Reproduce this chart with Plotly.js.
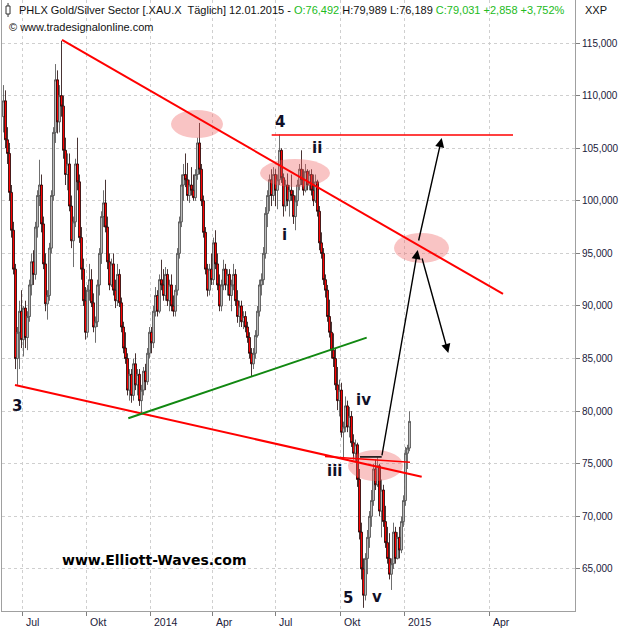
<!DOCTYPE html>
<html>
<head>
<meta charset="utf-8">
<script src="https://cdn.plot.ly/plotly-3.0.1.min.js"></script>
<style>html,body{margin:0;padding:0;background:#fff;}#chart{width:621px;height:629px;}</style>
</head>
<body>
<div id="chart"></div>
<script>
// Trading-day index (0 = first trading day of Jul 2013); one candle every 2 trading days
const firstDay = -19;
const dayStep = 2;

const openP = [
108,109.5,105.8,104.5,100.8,97.2,93.5,85,87.5,89.5,
86.8,89.8,87,89,92,94.2,93,97.5,100.5,101.5,
97.8,94,90.2,91,95.5,100.5,106.5,111.5,107.5,110,
109,104.8,102.5,103.5,99.5,96.2,98,103.5,101.8,96.5,
93.5,90.5,87.5,91.5,92.5,90.3,88,88.5,92,95,
98.5,99.8,97.5,94.2,92,94,91.5,90.5,93,90.3,
88,86,85,82,83.5,81.5,84.5,82.5,83.5,81,
82,83.8,82.8,85.5,87.5,86.5,89.5,91,89.5,92.5,
92,91,93,90.5,92,90,89.5,91.5,95,98,
101.5,102.5,102,100.5,101.5,101,100.3,102.5,105.5,103,
100,97,93.5,91.5,93.5,92.5,96,94,92,90,
92,93.5,92,93,91,92,93,90.5,89,90,
88.5,89,88,87,85.5,84.5,85.5,87.2,89.5,92,
92.5,95,98.8,100.5,102,100.5,102.5,101,102,104.8,
102.2,99.5,101.5,100,101,100.5,98.5,100,101.5,103,
102,101,102.8,101.5,102.5,101,100,101.8,99,96,
95,92.5,91.5,89,87.5,85.8,85,82.5,81,82,
78,78.5,80.5,78.5,79.5,77,76,76.8,73.5,68.5,
65,62.5,66,68,70,71.5,74.5,73,74.8,70.5,
72.5,69.5,67.5,66,64.5,65.5,68.5,66,68,66.8,
69.5,71.5,76,76.49];
const highP = [
111,110.5,107,105.5,101.5,98,94,88,90.5,91.5,
90,90.5,89.5,92.5,95,95.3,98,101,103.9,102.5,
98.5,95,91.5,96,101,107,113,112.4,111,115.2,
110,106,104.5,104.5,100.5,98.5,104,106,102.5,97.5,
94.5,91.8,92,94,93.5,91.2,89,92.5,95.5,99,
101,102,98.5,95,94.5,95,92.5,94,93.5,90.8,
88.5,87.5,85.5,84,84,85,85.5,84,84,82.5,
84.2,84.5,86,88,88,90,91.8,91.5,93,94.4,
93.5,93.7,93.5,92.5,93,91,92,95.5,98.5,102.5,
103.5,104.5,103.6,102,103.2,102.5,103,106,107.4,103.5,
100.5,97.5,94,94,95,96.5,97.2,95,93,92.5,
94.4,94,93.5,93.5,92.5,94,93.5,91.5,90.5,90.5,
89.5,89.5,88.5,87.5,86,86,87.7,90,92.5,93.1,
95.6,99.4,101,102.5,103,103.2,103,102.5,106.3,105,
102.6,102,102.6,101.5,102.5,101,100.5,102,103.5,104.8,
103,103.5,103,102.9,103,102.5,102.5,102,99.5,97,
95.5,93,92,90.6,88.5,87.4,86,84.2,83,82.7,
79,81.4,81,80.4,80,77.8,77.3,77,74.5,69.4,
66,66.5,68.7,70.5,72.5,75,75.4,75.6,75,73.5,
73,71,69,68.4,66,69.4,69,68.5,69,70,
72,76.6,76.8,79.99];
const lowP = [
106.5,105,103.5,100,96.5,93,84,82.5,84,86,
85.2,86,85.8,88.5,91,92,92.5,96.5,99.5,97,
93.5,89.5,88.7,90.5,95,100,105.5,106.4,106.5,108,
104,101.5,101,99,95.5,93.7,97.5,101,96,92.5,
90,86.8,87,90.5,89.9,87.5,86.5,88,91,94,
97.5,97,93.5,91.5,91.8,91,89.8,90,89.9,87.5,
85.5,84.5,81.5,81,80.8,81,82,81.5,80.5,79.8,
81.5,82,82.5,85,85.5,86,89,89,89.3,91.5,
90.5,90.5,90,89.5,89.5,89,89,91,94.5,97.5,
100,101.3,100,99.8,100.5,100,100,102,102.5,99.5,
96.5,93,90.9,91,92,92,93.5,91.5,89.5,89.5,
91.5,91.5,91,90.5,89.5,91.5,90,88.4,88,88,
87.8,87.5,86.5,85,83.3,84,85,87,89,91,
92,94.5,97.5,99,99.5,100,99.5,99.2,101.5,101.7,
98.5,99,99.5,98.5,100,97.8,97.2,99.5,101,101.5,
100.5,100.8,101,101,100.5,99.5,99.8,98.5,95.3,94.5,
92,90.8,88.5,87,85,84.2,82,80.1,79.5,77.5,
75.6,78,78,77.5,76.6,75.4,75.2,72.8,67.8,64,
61.3,62,64.5,67,69,71,72.5,72.8,70,68,
69,67,65.5,64,63,65,65.5,65.9,66,66.5,
69,71,74.5,76.19];
const closeP = [
109.5,105.8,104.5,100.8,97.2,93.5,85,87.5,89.5,86.8,
89.8,87,89,92,94.2,93,97.5,100.5,101.5,97.8,
94,90.2,91,95.5,100.5,106.5,111.5,107.5,110,109,
104.8,102.5,103.5,99.5,96.2,98,103.5,101.8,96.5,93.5,
90.5,87.5,91.5,92.5,90.3,88,88.5,92,95,98.5,
99.8,97.5,94.2,92,94,91.5,90.5,93,90.3,88,
86,85,82,83.5,81.5,84.5,82.5,83.5,81,82,
83.8,82.8,85.5,87.5,86.5,89.5,91,89.5,92.5,92,
91,93,90.5,92,90,89.5,91.5,95,98,101.5,
102.5,102,100.5,101.5,101,100.3,102.5,105.5,103,100,
97,93.5,91.5,93.5,92.5,96,94,92,90,92,
93.5,92,93,91,92,93,90.5,89,90,88.5,
89,88,87,85.5,84.5,85.5,87.2,89.5,92,92.5,
95,98.8,100.5,102,100.5,102.5,101,102,104.8,102.2,
99.5,101.5,100,101,100.5,98.5,100,101.5,103,102,
101,102.8,101.5,102.5,101,100,101.8,99,96,95,
92.5,91.5,89,87.5,85.8,85,82.5,81,82,78,
78.5,80.5,78.5,79.5,77,76,76.8,73.5,68.5,65,
62.5,66,68,70,71.5,74.5,73,74.8,70.5,72.5,
69.5,67.5,66,64.5,65.5,68.5,66,68,66.8,69.5,
71.5,76,76.5,79.03];

const xTickIdx = [0, 64, 128, 190, 253, 318, 382, 467];
const xTickLabels = ['Jul', 'Okt', '2014', 'Apr', 'Jul', 'Okt', '2015', 'Apr'];
const yTickVals = [65, 70, 75, 80, 85, 90, 95, 100, 105, 110, 115];

const days = openP.map((_, i) => firstDay + i * dayStep);

const XR = [-20.5, 552.5];
const YR = [61.0, 119.09];

const trace = {
  type: 'candlestick',
  x: days, open: openP, high: highP, low: lowP, close: closeP,
  increasing: {line: {color: '#4a4a4a', width: 0.8}, fillcolor: '#bbbbbb'},
  decreasing: {line: {color: '#1a0000', width: 0.8}, fillcolor: '#ff0000'},
  whiskerwidth: 0,
  hoverinfo: 'skip',
  showlegend: false
};

const red = '#ff0000';
const shapes = [
  // pink ellipses
  {type: 'circle', xref: 'x', yref: 'y', x0: 148.5, x1: 200.5, y0: 105.97, y1: 108.63, fillcolor: 'rgba(240,100,100,0.38)', line: {width: 0}, layer: 'above'},
  {type: 'circle', xref: 'x', yref: 'y', x0: 237.5, x1: 307.5, y0: 101.31, y1: 103.97, fillcolor: 'rgba(240,100,100,0.38)', line: {width: 0}, layer: 'above'},
  {type: 'circle', xref: 'x', yref: 'y', x0: 371.5, x1: 426.5, y0: 94.09, y1: 96.94, fillcolor: 'rgba(240,100,100,0.38)', line: {width: 0}, layer: 'above'},
  {type: 'circle', xref: 'x', yref: 'y', x0: 325.5, x1: 380.5, y0: 73.37, y1: 76.31, fillcolor: 'rgba(240,100,100,0.38)', line: {width: 0}, layer: 'above'},
  // red trend lines
  {type: 'line', xref: 'x', yref: 'y', x0: 39.5, y0: 115.29, x1: 480.5, y1: 91.14, line: {color: red, width: 2}, layer: 'above'},
  {type: 'line', xref: 'x', yref: 'y', x0: -7.5, y0: 82.49, x1: 399.2, y1: 73.77, line: {color: red, width: 2}, layer: 'above'},
  {type: 'line', xref: 'x', yref: 'y', x0: 302.5, y0: 75.68, x1: 387.5, y1: 75.14, line: {color: red, width: 1.5}, layer: 'above'},
  {type: 'line', xref: 'x', yref: 'y', x0: 249.2, y0: 106.25, x1: 490.5, y1: 106.25, line: {color: red, width: 1.5}, layer: 'above'},
  // green line
  {type: 'line', xref: 'x', yref: 'y', x0: 105.8, y0: 79.33, x1: 344.2, y1: 86.99, line: {color: '#118811', width: 2}, layer: 'above'},
  // black horizontal segment
  {type: 'line', xref: 'x', yref: 'y', x0: 337.5, y0: 75.65, x1: 359.2, y1: 75.65, line: {color: '#000000', width: 1.5}, layer: 'above'},
  // header candle icon
  {type: 'line', xref: 'paper', yref: 'paper', x0: 0.0105, x1: 0.0105, y0: 0.9951, y1: 0.9722, line: {color: '#333', width: 1}},
  {type: 'rect', xref: 'paper', yref: 'paper', x0: 0.0070, x1: 0.0140, y0: 0.9902, y1: 0.9771, fillcolor: '#ffffff', line: {color: '#333', width: 1}}
];

const labelFont = {family: 'DejaVu Sans', size: 15, color: '#101028'};
function waveLabel(text, x, y) {
  return {text: '<b>' + text + '</b>', x: x, y: y, xref: 'x', yref: 'y', showarrow: false, font: labelFont, xanchor: 'center', yanchor: 'middle'};
}
function arrow(x0, y0, x1, y1) {
  return {x: x1, y: y1, ax: x0, ay: y0, xref: 'x', yref: 'y', axref: 'x', ayref: 'y', text: '', showarrow: true,
          arrowhead: 2, arrowsize: 1.3, arrowwidth: 1.4, arrowcolor: '#000000', standoff: 0, startstandoff: 0};
}

const annotations = [
  waveLabel('3', -5.5, 80.49),
  waveLabel('4', 257.5, 107.49),
  waveLabel('ii', 294.5, 105.02),
  waveLabel('i', 262, 96.75),
  waveLabel('iv', 340.5, 81.06),
  waveLabel('iii', 311.5, 74.32),
  waveLabel('5', 325.5, 62.24),
  waveLabel('v', 354.5, 62.34),
  {text: '<b>www.Elliott-Waves.com</b>', x: 131.5, y: 65.86, xref: 'x', yref: 'y', showarrow: false,
   font: {family: 'DejaVu Sans', size: 14, color: '#000000'}, xanchor: 'center', yanchor: 'middle'},
  arrow(359.2, 75.65, 395.2, 95.32),
  arrow(395.8, 96.08, 419.2, 105.97),
  arrow(399.2, 94.66, 425.8, 85.53),
  {text: 'PHLX Gold/Silver Sector [.XAU.X  Täglich] 12.01.2015 - <span style="color:#22bb22">O:76,492</span> H:79,989 L:76,189 <span style="color:#22bb22">C:79,031 +2,858 +3,752%</span>',
   xref: 'paper', yref: 'paper', x: 0.0262, y: 0.9836, xanchor: 'left', yanchor: 'middle', showarrow: false,
   font: {family: 'Liberation Sans', size: 11, color: '#111111'}},
  {text: '© www.tradesignalonline.com', xref: 'paper', yref: 'paper', x: 0.0087, y: 0.9558, xanchor: 'left', yanchor: 'middle', showarrow: false,
   font: {family: 'Liberation Sans', size: 11, color: '#111111'}},
  {text: 'XXP', xref: 'paper', yref: 'paper', x: 1.0140, y: 0.9836, xanchor: 'left', yanchor: 'middle', showarrow: false,
   font: {family: 'Liberation Sans', size: 11, color: '#111111'}}
];

// x tick labels, left-aligned just right of each tick
xTickIdx.forEach((v, i) => {
  annotations.push({text: xTickLabels[i], x: v, y: 0, xref: 'x', yref: 'paper', xanchor: 'left', yanchor: 'top',
    xshift: 1, yshift: -3, showarrow: false, font: {family: 'Liberation Sans', size: 10.5, color: '#1a1a3a'}});
});

const layout = {
  width: 621, height: 629,
  margin: {l: 2, r: 46, t: 0, b: 18, pad: 0},
  paper_bgcolor: '#ffffff', plot_bgcolor: '#ffffff',
  showlegend: false,
  boxgap: 0, boxgroupgap: 0,
  xaxis: {
    type: 'linear', range: XR, tickvals: xTickIdx, ticktext: xTickLabels, showticklabels: false,
    ticks: 'outside', ticklen: 4, tickcolor: '#808080',
    showgrid: true, gridcolor: '#cfcfcf', griddash: 'dot', gridwidth: 1,
    showline: true, linecolor: '#a0a0a0', linewidth: 1, zeroline: false,
    rangeslider: {visible: false}, fixedrange: true
  },
  yaxis: {
    side: 'right', range: YR, tickvals: yTickVals,
    ticktext: yTickVals.map(v => v.toFixed(3).replace('.', ',')),
    ticks: 'outside', ticklen: 4, tickcolor: '#808080',
    tickfont: {family: 'Liberation Sans', size: 10, color: '#1a1a3a'},
    showgrid: true, gridcolor: '#cfcfcf', griddash: 'dot', gridwidth: 1,
    showline: true, mirror: true, linecolor: '#a0a0a0', linewidth: 1, zeroline: false, fixedrange: true
  },
  shapes: shapes,
  annotations: annotations
};

Plotly.newPlot('chart', [trace], layout, {staticPlot: true, displayModeBar: false});
</script>
</body>
</html>
